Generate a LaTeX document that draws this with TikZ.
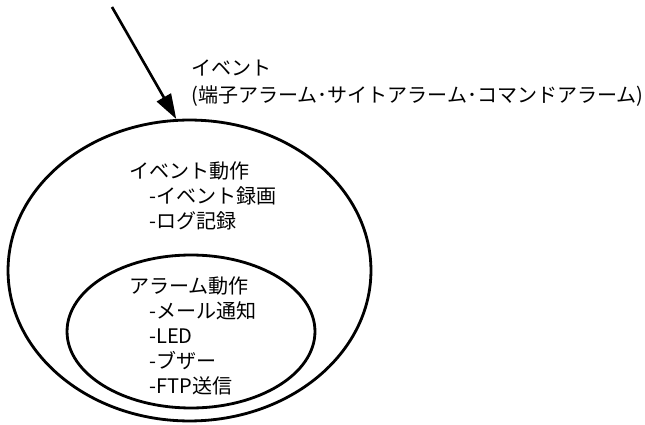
\documentclass[tikz,border=0pt]{standalone}
\usepackage{fontspec}
\setmainfont{Noto Sans CJK JP}
\usetikzlibrary{shapes.geometric, arrows.meta}

\begin{document}
\begin{tikzpicture}[x=0.02cm, y=-0.02cm,
        ring/.style={draw, ellipse, line width=1.6pt, inner sep=0pt},
        listtext/.style={anchor=west, align=left, inner sep=0pt, font=\fontsize{11.4}{14.2}\selectfont}]
    \useasboundingbox (0,0) rectangle (645,425);

    % Outer ellipse
    \node (outer) [ring, minimum width=7.26cm, minimum height=6.02cm] at (189.5,270.5) {};

    % Inner ellipse
    \node (inner) [ring, minimum width=4.96cm, minimum height=3.06cm] at (191,331.5) {};

    % Incoming event
    \coordinate (src) at (112,7);
    \draw[-{Triangle[length=0.5cm, width=0.32cm]}, line width=1.5pt] (src) -- (outer.95);

    \node (event) [listtext, font=\fontsize{11.4}{15.4}\selectfont] at (191,83.5)
        {イベント\\(端子アラーム･サイトアラーム･コマンドアラーム)};

    % Event actions
    \node (evtact) [listtext] at (129,196)
        {イベント動作\\\hspace*{0.4cm}-イベント録画\\\hspace*{0.4cm}-ログ記録};

    % Alarm actions
    \node (almact) [listtext] at (129,336)
        {アラーム動作\\\hspace*{0.4cm}-メール通知\\\hspace*{0.4cm}-LED\\\hspace*{0.4cm}-ブザー\\\hspace*{0.4cm}-FTP送信};
\end{tikzpicture}
\end{document}
